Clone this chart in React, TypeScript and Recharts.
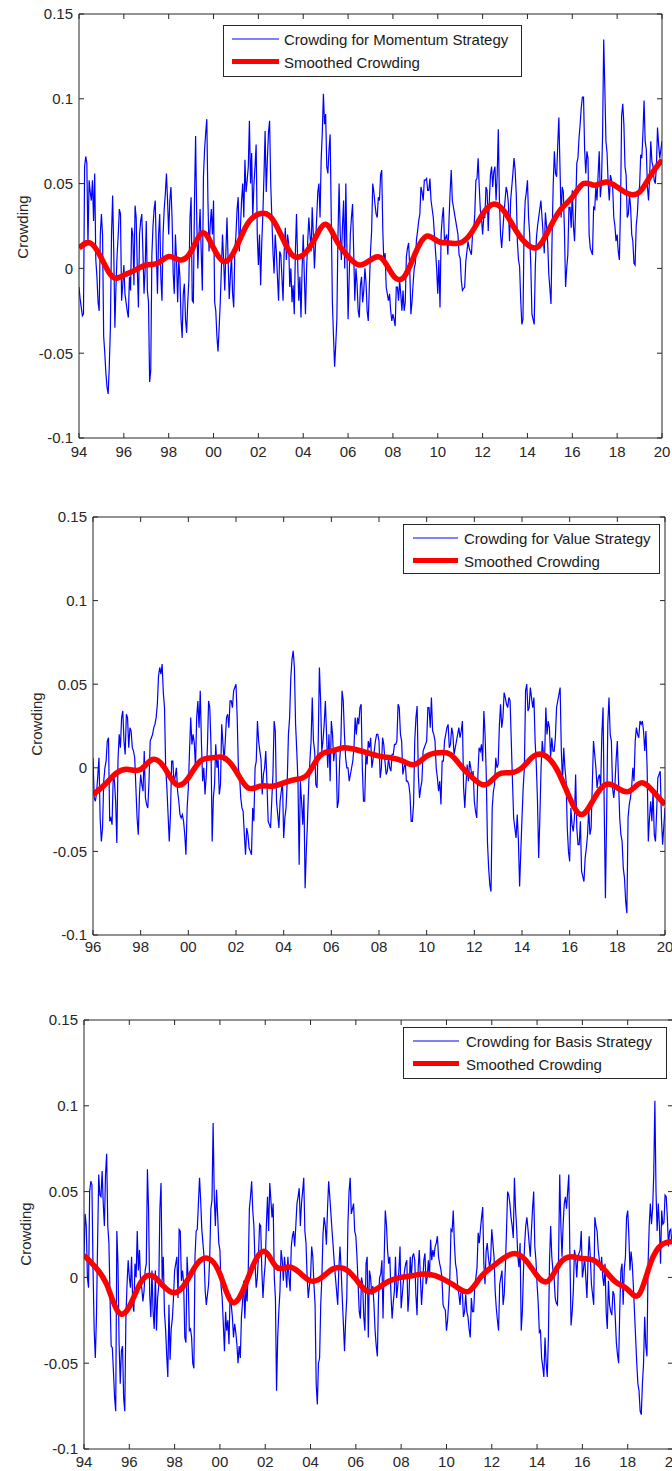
import React from 'react';
import { LineChart, Line, XAxis, YAxis } from 'recharts';

const FONT = '"Liberation Sans", Arial, Helvetica, sans-serif';
const INK = '#262626';

// raw crowding is sampled every 0.05 yr, the smoothed curve every 0.5 yr
// values are in thousandths (12 -> 0.012), one row per year
const RAW_STEP = 0.05;
const SMOOTH_STEP = 0.5;

const yTicks = [-0.1, -0.05, 0, 0.05, 0.1, 0.15];
const yearTicks94 = [1994, 1996, 1998, 2000, 2002, 2004, 2006, 2008, 2010, 2012, 2014, 2016, 2018, 2020];
const yearTicks96 = [1996, 1998, 2000, 2002, 2004, 2006, 2008, 2010, 2012, 2014, 2016, 2018, 2020];

// Momentum strategy, 1994.0 - 2020.0
const momentumRaw = [
  -11, -18, -23, -28, -27, 60, 66, 62, 14, 52, 45, 40, 52, 28, 56, 5, -5, -20, -25, 20,
  32, 20, -40, -50, -62, -70, -74, -58, -35, 20, 43, 10, -35, -10, 8, 20, 35, 32, -19, -10,
  2, -15, -20, -25, -29, -5, -13, 24, 20, -10, 37, 30, 0, -23, 20, 28, 32, 10, -15, 0,
  28, -13, -20, -67, -60, 8, 25, 35, 40, 10, -15, 20, 32, -5, -19, 20, 35, 44, 56, 40,
  20, 40, 48, 30, -3, -15, 20, 5, -20, 5, -5, -30, -41, -15, -9, -30, -38, -20, -7, 30,
  42, -19, -20, 40, 78, 30, 0, 20, 35, 10, -13, 54, 70, 80, 88, 40, 10, 25, 35, 20,
  40, -20, -25, -40, -49, -35, -20, 0, 20, 5, -13, 10, 30, 5, -18, -5, 8, -15, -23, 10,
  20, 35, 42, 10, 24, 40, 50, 30, 64, 45, 52, 60, 87, 50, 68, 30, 49, 60, 73, 20,
  2, 20, -10, 15, 32, 55, 81, 45, 64, 80, 87, 50, 30, 10, -3, 20, 10, -5, -19, 10,
  8, -5, -19, 10, 24, 5, 20, 15, -11, 0, -20, -10, -27, 10, 32, 5, -19, -5, -29, 0,
  20, -5, -27, 0, 16, 30, 20, 10, 36, 20, 0, 15, 30, 45, 50, 30, 64, 80, 103, 85,
  91, 60, 56, 70, 79, 30, -20, -40, -58, -45, -30, 20, 50, 20, 5, 25, 40, 0, 50, 10,
  -30, -5, 20, 30, 38, 10, -19, 0, -9, -25, -29, -10, -5, -20, -13, 0, -8, -25, -31, -10,
  10, 22, 50, 45, 38, 32, 30, 42, 40, 55, 58, 22, 2, 9, -11, -15, -19, -15, -25, -31,
  -27, -30, -34, -11, -11, -19, -7, -15, -25, -13, -25, -20, 7, 12, 15, 1, -27, -20, -9, 0,
  3, 17, 22, 28, 32, 48, 45, 40, 52, 52, 53, 46, 46, 53, 40, 35, 30, 20, 10, 0,
  -15, 5, -23, 20, 30, 36, 16, 18, 20, 8, 28, 45, 58, 40, 36, 32, 28, 24, 20, 8,
  6, -7, -13, -12, -11, 4, 10, 16, 12, 10, 8, 20, 22, 32, 52, 53, 65, 48, 34, 30,
  20, 30, 30, 48, 46, 22, 40, 55, 60, 48, 57, 60, 40, 55, 82, 40, 20, 12, 22, 32,
  40, 48, 45, 38, 16, 40, 48, 56, 65, 58, 44, 16, 5, 1, -19, -33, -30, 24, 40, 45,
  52, 30, 20, 1, -27, -30, -33, 1, 18, 25, 30, 35, 40, 30, 20, 9, 33, 25, 16, -3,
  -12, -21, 20, 50, 69, 56, 54, 73, 89, 60, 30, 48, 45, 22, -11, 0, 8, 36, 36, 24,
  46, 25, 16, 36, 62, 65, 77, 85, 95, 101, 101, 70, 56, 69, 65, 20, 12, 10, 8, 36,
  35, 48, 40, 55, 69, 42, 50, 79, 135, 107, 75, 68, 50, 40, 55, 52, 48, 30, 25, 16,
  20, 10, 5, 36, 90, 97, 85, 60, 55, 30, 32, 44, 36, 20, 16, 3, 2, 25, 32, 45,
  48, 67, 65, 80, 99, 75, 70, 48, 40, 55, 75, 63, 60, 52, 50, 60, 83, 73, 65, 70,
  75,
];
const momentumSmooth = [
  12, 15, 6, -5, -4, -1, 2, 3, 7, 5,
  10, 21, 12, 4, 12, 26, 32, 31, 20, 8,
  8, 17, 26, 16, 7, 2, 5, 6, -4, -5,
  9, 19, 16, 15, 15, 21, 32, 38, 33, 22,
  14, 13, 24, 35, 42, 50, 49, 51, 48, 44,
  45, 55, 64,
];

// Value strategy, 1996.0 - 2020.0
const valueRaw = [
  6, -18, -20, -15, -5, 6, -30, -44, -36, -8, 0, 4, 16, 18, -32, -30, -34, -4, -8, -20,
  -45, 5, 20, 12, 30, 34, 16, 8, 32, 30, 12, 24, 22, 12, 10, 6, -12, -30, -40, -16,
  -4, -10, -14, 10, -18, -22, -24, -8, 16, 18, 20, 24, 26, 30, 38, 55, 60, 56, 62, 45,
  36, 0, -12, -28, -44, -28, 4, 4, -10, -5, 0, -14, -20, -28, -30, -28, -32, -40, -52, -24,
  -12, 10, 30, 14, 20, 15, 0, 30, 40, 24, 46, 15, -8, 0, -16, -5, 12, 40, 36, 14,
  -44, -18, -10, 14, 0, 5, -16, -10, 26, 15, 4, 16, 30, 32, 24, 40, 40, 36, 46, 48,
  50, 30, 0, -5, -18, -24, -26, -40, -52, -36, -40, -48, -50, -52, -24, -32, 0, 4, 28, 16,
  10, 5, -16, -4, 0, 10, -10, -32, -34, -36, -20, -4, 28, 22, -20, -28, -36, -20, -14, -8,
  -42, -30, -24, -8, 20, 30, 54, 65, 70, 60, 26, 10, -8, -58, -8, -20, -34, -16, -72, -50,
  -32, -10, 4, 16, 42, 16, 10, -10, -12, 16, 60, 40, 10, 16, 26, 40, 20, 0, 20, -8,
  28, 20, 4, 12, 8, -24, -20, 4, 16, 46, 40, 20, 6, 0, 0, -8, -4, 0, 4, 12,
  30, 20, 30, 26, 36, 38, 0, -20, -20, 8, 2, 16, 12, 18, 0, 5, 10, 16, 20, 20,
  16, -6, 0, 18, 14, 4, -4, -2, 6, 0, -2, 8, 8, 14, 14, 16, 38, 36, 20, 16,
  -4, 0, 4, -8, -8, -10, -16, -32, -32, -22, 16, 30, 37, -4, -18, -12, -8, 10, 12, 14,
  16, 36, 36, 24, 42, 22, 20, 16, 0, -6, -14, -8, -22, 4, 4, 16, 20, 24, 26, 12,
  14, 24, 20, 8, 12, 16, 20, 24, 18, 22, 28, -12, -24, -10, 2, -8, 4, 0, -6, -2,
  -20, -26, -30, -4, 12, 10, 14, 4, 34, 20, -4, -44, -60, -70, -74, -24, -14, -10, 6, 0,
  2, 25, 38, 24, 30, 45, 42, 38, 36, 42, 40, 16, -8, -30, -36, -42, -28, -44, -71, -50,
  -30, -12, 0, 46, 50, 34, 36, 48, 42, 36, 42, 16, 2, -20, -54, -30, 0, 16, 8, 6,
  36, 20, 28, 24, 6, 18, 10, 10, 18, 36, 40, 44, 48, 10, -8, 12, 0, -8, -36, -50,
  -56, -24, -34, -38, -30, -4, -36, -46, -46, -32, -62, -65, -68, -54, -48, -40, -24, -40, -36, -10,
  16, 8, 0, -12, -6, -4, -12, 20, 36, -24, -78, -30, 26, 42, 20, 16, -12, -18, -10, 5,
  16, -8, -30, -40, -44, -60, -66, -80, -87, -30, -22, -18, -12, 0, -8, 16, 24, 20, 18, 28,
  26, 28, 22, 10, 22, 0, -44, -30, -20, -32, -14, -40, -44, -26, -6, -4, -2, -30, -46, -35,
  -24,
];
const valueSmooth = [
  -16, -10, -3, -1, -1, 5, 0, -10, -6, 4,
  6, 6, -2, -12, -11, -11, -9, -7, -4, 7,
  10, 12, 11, 9, 7, 6, 4, 2, 7, 9,
  8, 0, -7, -10, -4, -3, 0, 7, 7, -2,
  -18, -28, -19, -10, -12, -14, -9, -14, -22,
];

// Basis strategy, 1994.0 - 2020.0
const basisRaw = [
  12, 37, 30, 0, -6, 50, 56, 54, 4, -31, -47, -23, 20, 60, 48, 47, 62, 43, 30, 60,
  72, 30, 20, -12, -40, -41, -55, -70, -78, 27, 8, -39, -62, -43, -40, -70, -78, -23, -4, 10,
  0, -6, 12, -15, -20, 8, 0, 27, 4, 16, -4, -6, -14, -8, 4, 8, 63, 40, -10, -23,
  4, -20, -30, 4, -31, -12, -5, 40, 55, -2, 12, -20, -30, -45, -58, -16, -48, -30, -24, -12,
  4, 8, 12, -12, 28, 27, -2, 4, -4, -35, -38, 12, -2, -31, -30, -35, -50, -53, 12, 27,
  28, 43, 58, 45, 28, 20, 12, -8, -16, -10, -4, 12, 40, 45, 90, 47, 30, 51, 36, 20,
  16, -5, -12, -27, -43, -20, -31, -25, -39, -10, -16, -23, -35, -27, -32, -39, -50, -40, -47, -23,
  -14, -2, -24, -5, -14, 4, 40, 47, 56, 39, 30, 8, -6, 0, 12, 31, 30, 4, -12, 0,
  8, 30, 47, 27, 55, 45, 35, 43, 0, -12, -66, -35, -20, -8, 16, 10, -2, 12, 4, -6,
  12, 0, -8, 18, 24, 27, 18, 30, 43, 47, 52, 30, 43, 50, 58, 27, 20, 0, -12, -5,
  0, 18, 12, -4, -16, -62, -74, -50, -47, -16, 0, 25, 35, 30, 19, 40, 56, 47, 37, 27,
  18, 8, 0, -8, -16, 5, 18, 5, -12, -27, -43, -25, -12, 31, 50, 58, 37, 40, 43, 27,
  24, 12, -4, -20, -24, 0, -4, -23, -31, 8, 12, -35, 4, 0, -10, -5, -16, -31, -40, -46,
  -12, 0, 2, 10, -24, 10, 39, 31, 16, 8, 12, -10, -24, -15, -8, 12, -12, -5, 4, 18,
  -18, -10, -2, 4, 8, 10, -20, -10, 12, 0, 12, 14, 10, -10, -22, 5, 16, 0, -16, -5,
  10, 14, -4, 0, 10, 0, 22, 10, 16, 12, 18, 20, 24, 12, 8, 5, 0, -16, -18, -19,
  -31, -25, -14, 0, 28, 27, 39, 20, 8, 4, -6, -10, -16, -6, -8, -23, -20, -10, -20, -23,
  -30, -35, -12, -20, -20, -5, 0, 6, 26, 20, 28, 35, 41, 8, -4, 15, 20, 12, 6, 10,
  28, 20, 12, -8, -18, -25, -31, -4, 0, 4, -16, -10, 6, 27, 50, 48, 43, 35, 30, 23,
  58, 40, 28, 12, 6, 20, -31, -20, 4, 19, 30, 35, 28, 20, 12, 27, 40, 50, 18, 10,
  -4, -15, -32, -31, -47, -52, -58, -35, -50, -58, -35, 10, 30, 12, 4, 0, -12, -15, -16, 12,
  60, 30, 12, 31, 43, 47, 40, 50, 60, 12, -28, -20, -8, 16, 12, 0, 12, 14, 16, 27,
  0, 5, 12, 0, -12, 10, 24, 12, -4, -10, -16, 35, 30, 27, 16, 10, 4, 12, 0, -5,
  8, -20, -30, -2, -16, -20, -22, -8, -10, -23, -38, -45, -50, -19, 4, 8, -16, 5, 12, 35,
  39, 25, 4, 15, 8, -5, -20, -35, -50, -62, -66, -78, -80, -62, -50, -23, -40, -46, 8, 30,
  43, 31, 40, 60, 103, 50, 27, 43, 30, 8, 39, 31, 32, 48, 47, 35, 18, 27, 28, 20,
  22,
];
const basisSmooth = [
  13, 6, -4, -20, -17, -3, 1, -5, -9, -3,
  8, 11, 2, -14, -8, 8, 15, 6, 6, 3,
  -2, 0, 5, 5, -1, -8, -6, -2, 0, 1,
  2, 1, -2, -6, -8, 0, 6, 11, 14, 10,
  1, -2, 8, 12, 11, 10, 4, -3, -7, -10,
  8, 19, 21,
];

const toSeries = (start: number, step: number, vals: number[]) =>
  vals.map((v, i) => ({ t: Math.round((start + i * step) * 1000) / 1000, v: v / 1000 }));

const fmtYear = (t: number) => String(Math.round(t) % 100).padStart(2, '0');
const fmtY = (v: number) => (Math.abs(v) < 1e-9 ? '0' : String(Number(v.toFixed(2))));
const blank = () => '';

const tickStyle = { fill: INK, fontSize: 15, fontFamily: FONT };

type PanelProps = {
  top: number;
  width: number;
  height: number;
  margin: { top: number; right: number; bottom: number; left: number };
  yAxisWidth: number;
  xAxisHeight: number;
  xTickMargin: number;
  startYear: number;
  xTicks: number[];
  raw: number[];
  smooth: number[];
  label: string;
  legend: { left: number; top: number; width: number; height: number; lineX: number; lineW: number; textX: number };
  yLabel: { x: number; y: number };
};

function Legend2({ legend, label }: { legend: PanelProps['legend']; label: string }) {
  const rows = [14, 36.5];
  return (
    <div
      style={{
        position: 'absolute', left: legend.left, top: legend.top, width: legend.width, height: legend.height,
        border: `1px solid ${INK}`, background: '#fff', boxSizing: 'border-box',
      }}
    >
      <svg width={legend.width} height={legend.height} style={{ position: 'absolute', left: -1, top: -1 }}>
        <line x1={legend.lineX} x2={legend.lineX + legend.lineW} y1={rows[0]} y2={rows[0]} stroke="#0000ff" strokeWidth={1} />
        <line x1={legend.lineX} x2={legend.lineX + legend.lineW} y1={rows[1]} y2={rows[1]} stroke="#ff0000" strokeWidth={5} />
      </svg>
      {[label, 'Smoothed Crowding'].map((txt, i) => (
        <div
          key={txt}
          style={{
            position: 'absolute', left: legend.textX - 1, top: rows[i] - 1, transform: 'translateY(-50%)',
            fontFamily: FONT, fontSize: 15, lineHeight: 1, color: '#1a1a1a', whiteSpace: 'nowrap',
          }}
        >
          {txt}
        </div>
      ))}
    </div>
  );
}

function Panel(p: PanelProps) {
  const rawData = toSeries(p.startYear, RAW_STEP, p.raw);
  const smoothData = toSeries(p.startYear, SMOOTH_STEP, p.smooth);
  const domainX: [number, number] = [p.startYear, 2020];
  // the top and right frame axes take 1px each, so shrink the margins by that
  const margin = { ...p.margin, top: p.margin.top - 1, right: p.margin.right - 1 };
  return (
    <>
      <div style={{ position: 'absolute', left: 0, top: p.top }}>
        <LineChart width={p.width} height={p.height} margin={margin}>
          <XAxis
            xAxisId="b" dataKey="t" type="number" domain={domainX} ticks={p.xTicks} interval={0}
            tickFormatter={fmtYear} tick={tickStyle} tickSize={-5} tickMargin={p.xTickMargin}
            height={p.xAxisHeight} axisLine={{ stroke: INK }} tickLine={{ stroke: INK }} allowDataOverflow
          />
          <XAxis
            xAxisId="t" dataKey="t" orientation="top" type="number" domain={domainX} ticks={p.xTicks} interval={0}
            tickFormatter={blank} tickSize={-5} height={1} axisLine={{ stroke: INK }} tickLine={{ stroke: INK }} allowDataOverflow
          />
          <YAxis
            yAxisId="l" type="number" domain={[-0.1, 0.15]} ticks={yTicks} interval={0}
            tickFormatter={fmtY} tick={tickStyle} tickSize={-5} tickMargin={11}
            width={p.yAxisWidth} axisLine={{ stroke: INK }} tickLine={{ stroke: INK }} allowDataOverflow
          />
          <YAxis
            yAxisId="r" orientation="right" type="number" domain={[-0.1, 0.15]} ticks={yTicks} interval={0}
            tickFormatter={blank} tickSize={-5} width={1} axisLine={{ stroke: INK }} tickLine={{ stroke: INK }} allowDataOverflow
          />
          {/* invisible copy so the top / right frame axes get drawn */}
          <Line
            xAxisId="t" yAxisId="r" data={smoothData} dataKey="v" stroke="transparent"
            dot={false} activeDot={false} isAnimationActive={false} legendType="none"
          />
          <Line
            xAxisId="b" yAxisId="l" data={rawData} dataKey="v" type="linear" stroke="#0000ff"
            strokeWidth={1.2} dot={false} activeDot={false} isAnimationActive={false}
          />
          <Line
            xAxisId="b" yAxisId="l" data={smoothData} dataKey="v" type="natural" stroke="#ff0000"
            strokeWidth={5.5} dot={false} activeDot={false} isAnimationActive={false}
          />
        </LineChart>
      </div>
      <div
        style={{
          position: 'absolute', left: p.yLabel.x, top: p.yLabel.y, transform: 'translate(-50%, -50%) rotate(-90deg)',
          fontFamily: FONT, fontSize: 15, color: INK, whiteSpace: 'nowrap', lineHeight: 1,
        }}
      >
        Crowding
      </div>
      <Legend2 legend={p.legend} label={p.label} />
    </>
  );
}

export default function App() {
  return (
    <div style={{ position: 'absolute', left: 0, top: 0, width: 672, height: 1471, overflow: 'hidden', background: '#fff' }}>
      {/* Momentum */}
      <Panel
        top={0} width={672} height={470} margin={{ top: 14, right: 10, bottom: 0, left: 0 }}
        yAxisWidth={79} xAxisHeight={32} xTickMargin={13} startYear={1994} xTicks={yearTicks94}
        raw={momentumRaw} smooth={momentumSmooth} label="Crowding for Momentum Strategy"
        legend={{ left: 223, top: 25, width: 299, height: 52, lineX: 9, lineW: 47, textX: 61 }}
        yLabel={{ x: 22, y: 227 }}
      />
      {/* Value */}
      <Panel
        top={500} width={672} height={470} margin={{ top: 17, right: 7, bottom: 0, left: 0 }}
        yAxisWidth={93} xAxisHeight={35} xTickMargin={11} startYear={1996} xTicks={yearTicks96}
        raw={valueRaw} smooth={valueSmooth} label="Crowding for Value Strategy"
        legend={{ left: 403, top: 524, width: 257, height: 50, lineX: 10, lineW: 45, textX: 61 }}
        yLabel={{ x: 36, y: 724 }}
      />
      {/* Basis */}
      <Panel
        top={1000} width={680} height={471} margin={{ top: 20, right: 7, bottom: 0, left: 0 }}
        yAxisWidth={84} xAxisHeight={22} xTickMargin={12} startYear={1994} xTicks={yearTicks94}
        raw={basisRaw} smooth={basisSmooth} label="Crowding for Basis Strategy"
        legend={{ left: 403, top: 1027, width: 264, height: 52, lineX: 10, lineW: 46, textX: 63 }}
        yLabel={{ x: 25, y: 1234 }}
      />
    </div>
  );
}
